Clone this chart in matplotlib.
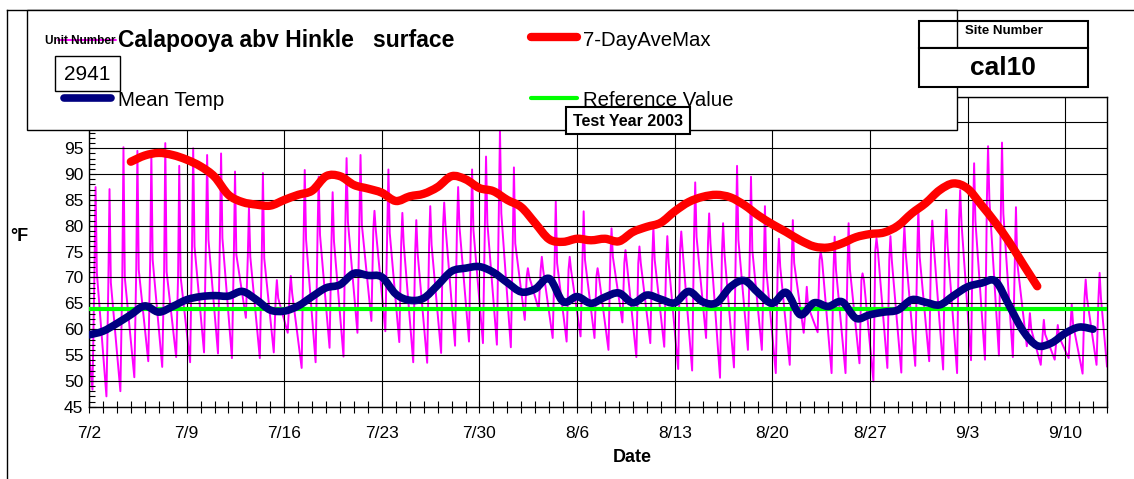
import matplotlib
matplotlib.use('Agg')
import matplotlib.pyplot as plt
from matplotlib.patches import Rectangle, PathPatch
from matplotlib.path import Path
from matplotlib.lines import Line2D
from matplotlib.ticker import MultipleLocator

plt.rcParams['font.family'] = ['Liberation Sans', 'DejaVu Sans']

# ---- data (x = days after 7/2) ----
date_ticks = [0, 7, 14, 21, 28, 35, 42, 49, 56, 63, 70]
date_labels = ['7/2', '7/9', '7/16', '7/23', '7/30', '8/6', '8/13',
               '8/20', '8/27', '9/3', '9/10']

# hourly trace, read as daily low / mid-day shoulder / spike high
reading_hours = [6, 9.3, 11.3, 13.6]
first_reading = 55.5
last_reading = 52.8
daily_low = [48.3, 47.0, 48.0, 50.7, 53.8, 52.7, 54.6, 53.6, 55.5, 55.3,
             54.4, 62.2, 54.4, 55.5, 59.3, 52.5, 53.6, 56.4, 54.7, 59.3,
             61.6, 59.6, 57.5, 53.6, 53.5, 55.4, 56.8, 57.6, 57.3, 57.0,
             56.5, 61.8, 63.8, 58.3, 57.6, 58.6, 58.3, 56.0, 61.3, 54.6,
             57.3, 56.6, 52.3, 52.0, 58.3, 50.6, 52.6, 56.0, 56.0, 51.5,
             53.1, 59.3, 59.4, 51.5, 51.5, 53.4, 49.9, 52.5, 51.6, 52.9,
             53.8, 52.2, 51.5, 54.0, 54.1, 54.9, 54.6, 56.7, 53.1, 54.1,
             54.4, 51.4, 53.1]
daily_shoulder = [70.8, 69.0, 70.0, 71.5, 73.4, 71.1, 70.2, 76.0, 77.3, 77.6,
                  74.4, 74.0, 73.7, 66.0, 67.0, 77.3, 78.2, 77.0, 80.8, 80.2,
                  79.2, 78.6, 76.6, 74.7, 76.3, 79.8, 79.8, 79.2, 80.5, 82.4,
                  76.6, 70.2, 71.5, 72.8, 71.5, 73.4, 70.2, 74.0, 72.8, 72.8,
                  73.4, 72.8, 75.3, 77.9, 76.6, 74.7, 77.3, 75.3, 71.5, 72.1,
                  72.8, 64.4, 73.4, 71.5, 71.5, 69.5, 75.3, 73.4, 74.7, 74.0,
                  76.6, 76.3, 80.5, 80.8, 85.0, 82.4, 72.8, 60.0, 59.0, 58.5,
                  61.0, 66.0, 66.0]
daily_high = [87.5, 87.1, 95.2, 94.5, 93.8, 96.0, 91.6, 95.0, 93.7, 94.0,
              90.5, 83.7, 90.2, 69.5, 70.3, 90.8, 89.5, 86.5, 93.1, 93.7,
              82.9, 90.9, 82.5, 81.1, 83.8, 84.5, 87.5, 90.9, 93.4, 98.5,
              91.3, 71.8, 74.0, 84.7, 74.0, 82.8, 71.8, 79.5, 75.3, 76.0,
              79.8, 78.0, 78.9, 88.4, 82.4, 80.5, 91.6, 89.5, 83.8, 77.5,
              81.1, 68.2, 75.0, 77.9, 80.5, 70.8, 77.6, 78.0, 80.0, 83.5,
              81.0, 83.1, 86.9, 92.1, 95.4, 96.1, 83.6, 63.1, 61.8, 60.8,
              64.8, 69.6, 70.9]

mean_temp = [58.9, 59.6, 61.1, 62.8, 64.5, 63.3, 64.4, 65.7, 66.3, 66.5,
             66.4, 67.3, 65.7, 63.7, 63.5, 64.5, 66.3, 68.0, 68.6, 70.8,
             70.4, 70.1, 66.8, 65.6, 66.0, 68.5, 71.2, 71.8, 72.1, 71.0,
             69.0, 67.2, 67.8, 69.8, 65.3, 66.3, 65.0, 66.2, 67.0, 65.1,
             66.6, 65.8, 65.1, 67.3, 65.3, 65.1, 68.2, 69.4, 67.0, 65.0,
             67.1, 62.8, 65.1, 64.4, 65.3, 62.1, 62.8, 63.3, 63.7, 65.7,
             65.2, 64.7, 66.5, 68.2, 68.9, 69.3, 64.5, 59.6, 56.8, 57.3,
             59.2, 60.4, 60.0]

ave_max_first_day = 3
ave_max = [92.4, 93.6, 94.1, 93.7, 92.8, 91.5, 89.5, 86.0, 84.6, 84.1,
           83.9, 85.0, 86.0, 86.8, 89.6, 89.6, 87.9, 87.2, 86.4, 84.8,
           85.7, 86.2, 87.5, 89.6, 89.0, 87.3, 86.7, 85.0, 83.6, 80.5,
           77.4, 76.9, 77.5, 77.2, 77.5, 77.0, 78.8, 79.8, 80.6, 82.8,
           84.6, 85.6, 86.0, 85.5, 84.0, 82.0, 80.3, 78.8, 77.2, 76.0,
           75.8, 76.6, 77.8, 78.4, 78.7, 80.0, 82.4, 84.4, 86.9, 88.2,
           87.2, 84.0, 80.6, 76.8, 72.5, 68.3]

reference_value = 64

# ---- build hourly series from the read values ----
times = [0.0]
temps = [first_reading]
for day, (lo, sh, hi) in enumerate(zip(daily_low, daily_shoulder, daily_high)):
    for hour, val in zip(reading_hours, (lo, sh, hi, sh)):
        times.append(day + hour / 24)
        temps.append(val)
times.append(73.0)
temps.append(last_reading)

W, H = 1134, 479
MAGENTA, RED, NAVY, GREEN = '#FF00FF', '#FF0000', '#000080', '#00FF00'


def fx(px):
    return px / W


def fy(py):
    return 1 - py / H


def smooth_path(xs, ys):
    """Excel-style smoothed line: cubic bezier through every point"""
    n = len(xs)
    verts = [(xs[0], ys[0])]
    codes = [Path.MOVETO]
    for i in range(n - 1):
        a = max(i - 1, 0)
        b = min(i + 2, n - 1)
        c1 = (xs[i] + (xs[i + 1] - xs[a]) / 6, ys[i] + (ys[i + 1] - ys[a]) / 6)
        c2 = (xs[i + 1] - (xs[b] - xs[i]) / 6, ys[i + 1] - (ys[b] - ys[i]) / 6)
        verts += [c1, c2, (xs[i + 1], ys[i + 1])]
        codes += [Path.CURVE4] * 3
    return Path(verts, codes)


fig = plt.figure(figsize=(W / 100, H / 100), dpi=100)
ax = fig.add_axes([fx(89), fy(406.7), (1107 - 89) / W, (406.7 - 96.6) / H])

ax.plot(times, temps, color=MAGENTA, lw=1.4, zorder=2)
ax.axhline(reference_value, color=GREEN, lw=3, zorder=3)
red_days = list(range(ave_max_first_day, ave_max_first_day + len(ave_max)))
ax.add_patch(PathPatch(smooth_path(red_days, ave_max), facecolor='none',
                       edgecolor=RED, lw=6, capstyle='round',
                       joinstyle='round', zorder=4))
ax.add_patch(PathPatch(smooth_path(list(range(len(mean_temp))), mean_temp),
                       facecolor='none', edgecolor=NAVY, lw=5.5,
                       capstyle='round', joinstyle='round', zorder=5))

ax.set_xlim(0, 73)
ax.set_ylim(45, 105)
ax.set_xticks(date_ticks, date_labels)
ax.xaxis.set_minor_locator(MultipleLocator(1))
ax.set_yticks(range(45, 106, 5))
ax.yaxis.set_minor_locator(MultipleLocator(1))
ax.tick_params(axis='x', which='both', direction='inout', length=8, width=0.8,
               pad=10, labelsize=12.5)
ax.tick_params(axis='y', which='major', direction='in', length=5, width=0.8,
               pad=4, labelsize=12.5)
ax.tick_params(axis='y', which='minor', direction='in', length=4, width=0.8)
ax.grid(True, which='major', color='black', lw=0.8)
ax.set_axisbelow(False)
for sp in ax.spines.values():
    sp.set_linewidth(1)

# ---- outer frame ----
fig.add_artist(Line2D([fx(7), fx(7)], [fy(10), fy(479)], color='black', lw=1,
                      transform=fig.transFigure))
fig.add_artist(Line2D([fx(7), fx(1134)], [fy(10), fy(10)], color='black', lw=1,
                      transform=fig.transFigure))

# ---- legend / title box ----
fig.add_artist(Rectangle((fx(27), fy(130)), fx(957) - fx(27), fy(10) - fy(130),
                         transform=fig.transFigure, facecolor='white',
                         edgecolor='black', lw=1, zorder=10))


def legend_line(x0, x1, y, color, lw):
    fig.add_artist(Line2D([fx(x0), fx(x1)], [fy(y), fy(y)], color=color, lw=lw,
                          solid_capstyle='round', transform=fig.transFigure,
                          zorder=11))


legend_line(58, 116, 40, MAGENTA, 1.4)
fig.text(fx(45), fy(41), 'Unit Number', fontsize=8.5, fontweight='bold',
         ha='left', va='center', zorder=12)
fig.text(fx(118), fy(41), 'Calapooya abv Hinkle   surface', fontsize=16.5,
         fontweight='bold', ha='left', va='center', zorder=12)
fig.add_artist(Rectangle((fx(55), fy(91)), fx(120) - fx(55), fy(56) - fy(91),
                         transform=fig.transFigure, facecolor='white',
                         edgecolor='black', lw=1, zorder=11))
fig.text(fx(87.5), fy(74), '2941', fontsize=15, ha='center', va='center',
         zorder=12)
legend_line(64, 111, 97.5, NAVY, 5.5)
fig.text(fx(118), fy(101), 'Mean Temp', fontsize=14.7, ha='left', va='center',
         zorder=12)
legend_line(531, 577, 37, RED, 6)
fig.text(fx(583), fy(41), '7-DayAveMax', fontsize=14.7, ha='left',
         va='center', zorder=12)
legend_line(531, 577, 98, GREEN, 3)
fig.text(fx(583), fy(101), 'Reference Value', fontsize=14.7, ha='left',
         va='center', zorder=12)

# ---- test year box ----
fig.add_artist(Rectangle((fx(566), fy(134)), fx(690) - fx(566), fy(107) - fy(134),
                         transform=fig.transFigure, facecolor='white',
                         edgecolor='black', lw=1.5, zorder=13))
fig.text(fx(628), fy(121), 'Test Year 2003', fontsize=11.5, fontweight='bold',
         ha='center', va='center', zorder=14)

# ---- site number box ----
fig.add_artist(Rectangle((fx(919), fy(48)), fx(1088) - fx(919), fy(21) - fy(48),
                         transform=fig.transFigure, facecolor='none',
                         edgecolor='black', lw=1.5, zorder=13))
fig.add_artist(Rectangle((fx(919), fy(87)), fx(1088) - fx(919), fy(48) - fy(87),
                         transform=fig.transFigure, facecolor='white',
                         edgecolor='black', lw=1.5, zorder=13))
fig.text(fx(1004), fy(31), 'Site Number', fontsize=9.5, fontweight='bold',
         ha='center', va='center', zorder=14)
fig.text(fx(1003), fy(68), 'cal10', fontsize=19, fontweight='bold',
         ha='center', va='center', zorder=14)

# ---- axis titles ----
fig.text(fx(19), fy(236), '°F', fontsize=13, fontweight='bold',
         ha='center', va='center')
fig.text(fx(632), fy(457), 'Date', fontsize=13, fontweight='bold',
         ha='center', va='center')

fig.savefig('out.png', dpi=100)
